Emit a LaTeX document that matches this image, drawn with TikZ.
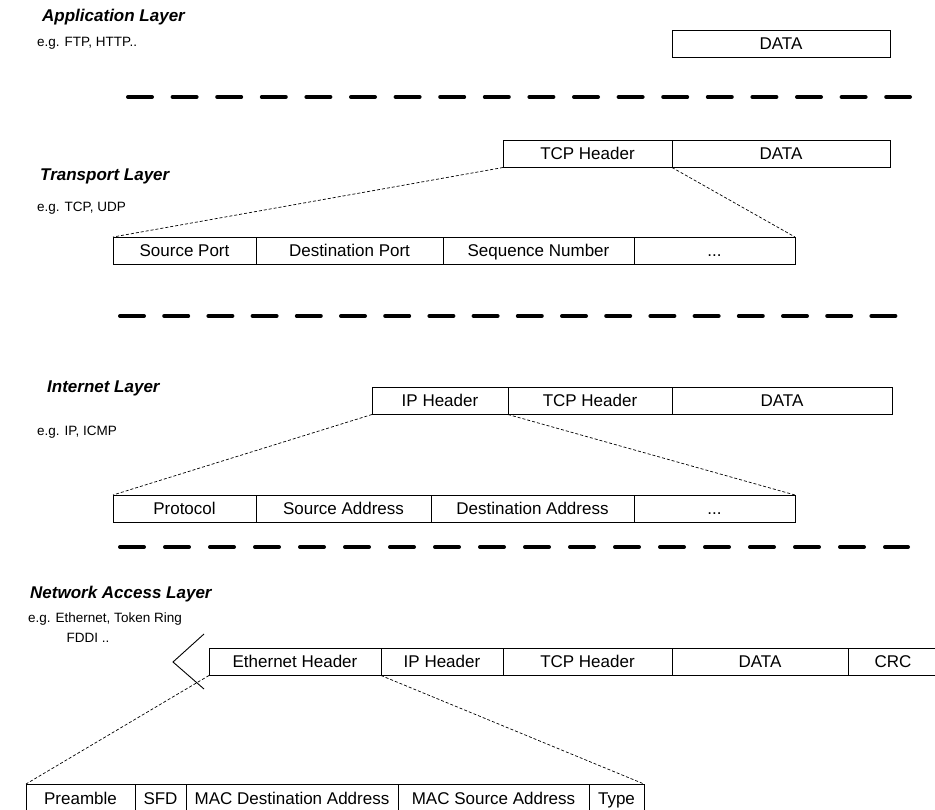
\documentclass[tikz,border=0pt]{standalone}
\usepackage{fontspec}
\setmainfont{Liberation Sans}
\begin{document}
\begin{tikzpicture}[x=1pt,y=-1pt,
 cell/.style={draw=black, line width=0.9pt, inner sep=0pt, outer sep=0pt, anchor=north west, minimum height=27.5pt, text height=12pt, text depth=0pt, font=\fontsize{17}{19}\selectfont},
 title/.style={anchor=west, inner sep=0pt, font=\fontsize{17}{20}\selectfont\bfseries\itshape},
 eg/.style={anchor=west, inner sep=0pt, font=\fontsize{13.5}{16}\selectfont},
 sep/.style={line width=4pt, line cap=round},
 conn/.style={line width=0.7pt, dash pattern=on 3pt off 2pt}]
\clip (0,0) rectangle (935,810);
\fill[white] (0,0) rectangle (935,810);

% layer titles
\node[title] (tapp) at (42,17) {Application Layer};
\node[eg] (eapp) at (37,43) {e.g. FTP, HTTP..};
\node[title] (ttr) at (40,176) {Transport Layer};
\node[eg] (etr) at (37,208) {e.g. TCP, UDP};
\node[title] (tin) at (47,388) {Internet Layer};
\node[eg] (ein) at (37,432) {e.g. IP, ICMP};
\node[title] (tna) at (30,594) {Network Access Layer};
\node[eg] (ena) at (28,619) {e.g. Ethernet, Token Ring};
\node[eg, anchor=center] (ena2) at (88,638) {FDDI ..};

% separators
\draw[sep, dash pattern=on 24pt off 20.6pt] (128,97) -- (910,97);
\draw[sep, dash pattern=on 24pt off 20.2pt] (120,316) -- (896,316);
\draw[sep, dash pattern=on 24pt off 21pt] (120,547) -- (908,547);

% application layer
\node[cell, minimum width=218pt] (adata) at (672,30) {DATA};

% transport layer
\node[cell, minimum width=169pt] (ttcp) at (503,140) {TCP Header};
\node[cell, minimum width=218pt] (tdata) at (672,140) {DATA};
\node[cell, minimum width=143pt] (tsp) at (113,237) {Source Port};
\node[cell, minimum width=187pt] (tdp) at (256,237) {Destination Port};
\node[cell, minimum width=191pt] (tsn) at (443,237) {Sequence Number};
\node[cell, minimum width=161pt] (tdots) at (634,237) {...};
\draw[conn] (ttcp.south west) -- (tsp.north west);
\draw[conn] (ttcp.south east) -- (tdots.north east);

% internet layer
\node[cell, minimum width=136pt] (iip) at (372,387) {IP Header};
\node[cell, minimum width=164pt] (itcp) at (508,387) {TCP Header};
\node[cell, minimum width=220pt] (idata) at (672,387) {DATA};
\node[cell, minimum width=143pt] (ipr) at (113,495) {Protocol};
\node[cell, minimum width=175pt] (isa) at (256,495) {Source Address};
\node[cell, minimum width=203pt] (ida) at (431,495) {Destination Address};
\node[cell, minimum width=161pt] (idots) at (634,495) {...};
\draw[conn] (iip.south west) -- (ipr.north west);
\draw[conn] (iip.south east) -- (idots.north east);

% network access layer
\draw[line width=0.9pt] (204,634) -- (173,662) -- (204,689);
\node[cell, minimum width=172pt] (neth) at (209,648) {Ethernet Header};
\node[cell, minimum width=122pt] (nip) at (381,648) {IP Header};
\node[cell, minimum width=169pt] (ntcp) at (503,648) {TCP Header};
\node[cell, minimum width=176pt] (ndata) at (672,648) {DATA};
\node[cell, minimum width=90pt] (ncrc) at (848,648) {CRC};
\node[cell, minimum width=109pt, minimum height=28pt] (bpre) at (26,784) {Preamble};
\node[cell, minimum width=51pt, minimum height=28pt] (bsfd) at (135,784) {SFD};
\node[cell, minimum width=212pt, minimum height=28pt] (bmd) at (186,784) {MAC Destination Address};
\node[cell, minimum width=191pt, minimum height=28pt] (bms) at (398,784) {MAC Source Address};
\node[cell, minimum width=55pt, minimum height=28pt] (btype) at (589,784) {Type};
\draw[conn] (neth.south west) -- (bpre.north west);
\draw[conn] (neth.south east) -- (btype.north east);
\end{tikzpicture}
\end{document}
